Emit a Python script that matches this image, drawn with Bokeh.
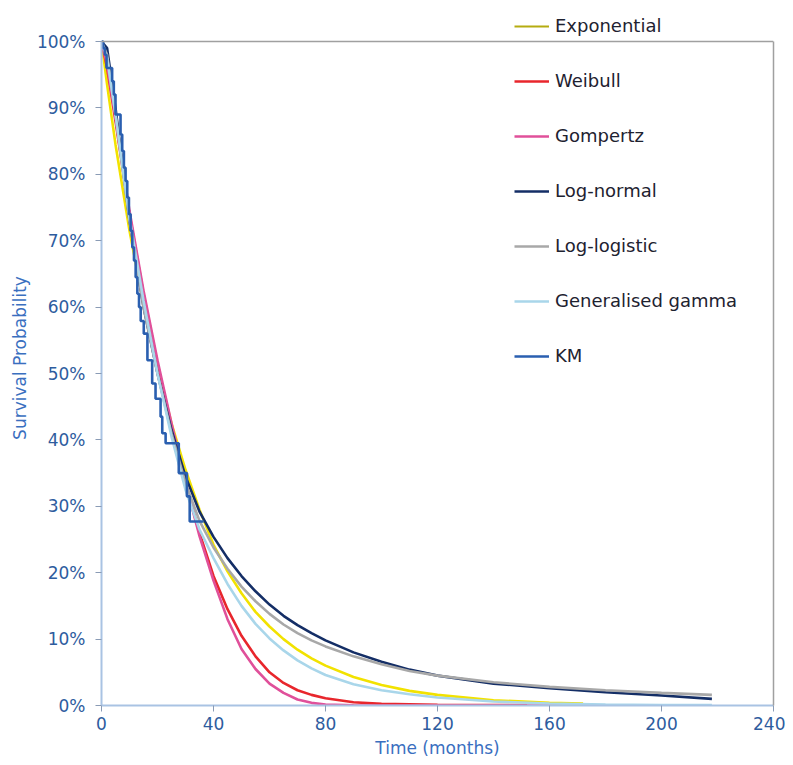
from bokeh.plotting import figure
from bokeh.models import (Legend, LegendItem, Range1d, FixedTicker, PrintfTickFormatter,
                          LinearAxis, Span)
from bokeh.embed import file_html
from bokeh.resources import INLINE

# ---- data (survival in %) ----
exp_t = [0, 2, 5, 10, 15, 20, 25, 30, 35, 40, 45, 50, 55, 60, 65, 70, 75, 80, 90, 100, 110, 120, 140, 160, 172]
exp_s = [100, 93.5, 84.5, 71.5, 60.5, 51, 42.5, 35.5, 29.5, 24.2, 20.2, 16.9, 14.1, 11.9, 10.0, 8.4, 7.1, 6.0, 4.3, 3.1, 2.2, 1.6, 0.8, 0.4, 0.3]

wei_t = [0, 2, 5, 10, 15, 20, 25, 30, 35, 40, 45, 50, 55, 60, 65, 70, 75, 80, 90, 100, 120, 152]
wei_s = [100, 96, 88, 74, 62, 51.5, 42, 33.5, 26, 19.5, 14.5, 10.5, 7.4, 5.0, 3.4, 2.3, 1.6, 1.1, 0.5, 0.25, 0.1, 0.05]

gom_t = [0, 2, 5, 10, 15, 20, 25, 30, 35, 40, 45, 50, 55, 60, 65, 70, 75, 80, 90, 100, 120, 188]
gom_s = [100, 96.5, 88.5, 74.5, 62.5, 52, 42.5, 33.5, 25.5, 18.8, 13, 8.5, 5.5, 3.3, 1.9, 0.9, 0.4, 0.15, 0.02, 0, 0, 0]

long_t = [0, 2, 5, 10, 15, 20, 25, 30, 35, 40, 45, 50, 55, 60, 65, 70, 75, 80, 90, 100, 110, 120, 140, 160, 180, 200, 218]
lnorm_s = [100, 99, 90, 73, 60, 50, 41.5, 34.5, 29.2, 25.4, 22.2, 19.5, 17.2, 15.2, 13.5, 12.1, 10.9, 9.8, 8.0, 6.6, 5.4, 4.5, 3.3, 2.6, 2.0, 1.5, 1.0]
llog_s = [100, 98, 89, 73, 60, 50, 41, 33.5, 27.8, 23.8, 20.6, 17.9, 15.7, 13.8, 12.2, 10.9, 9.8, 8.9, 7.4, 6.2, 5.2, 4.5, 3.5, 2.8, 2.3, 1.9, 1.6]
ggam_s = [100, 97.5, 89, 73.5, 61, 50, 40.5, 32.5, 26.5, 22.2, 18.3, 15.0, 12.3, 10.1, 8.3, 6.8, 5.6, 4.6, 3.2, 2.3, 1.7, 1.2, 0.6, 0.3, 0.15, 0.08, 0.05]

km_t = [0, 0.6, 1.2, 1.8, 3.8, 4.4, 5.0, 6.8, 7.4, 8.0, 8.6, 9.2, 9.8, 10.4, 11.0, 11.6, 12.2, 12.8,
        13.4, 14.0, 15.1, 16.4, 18.1, 19.3, 21.1, 21.7, 22.9, 27.6, 30.5, 31.5, 36.5]
km_s = [100, 99, 98, 96, 94, 92, 89, 86, 83.5, 81, 79, 76.5, 74, 71.5, 69, 67, 64.5, 62,
        60, 57.9, 56, 52, 48.5, 46.2, 43.5, 41, 39.5, 35, 31.5, 27.7, 27.7]

x_ticks = [0, 40, 80, 120, 160, 200, 240]
y_ticks = [0, 10, 20, 30, 40, 50, 60, 70, 80, 90, 100]

series_names = ["Exponential", "Weibull", "Gompertz", "Log-normal", "Log-logistic", "Generalised gamma", "KM"]
series_colors = ["#F2E200", "#E8262C", "#E0509A", "#142E66", "#A8A8A8", "#A9D6EA", "#2A5FB0"]
exp_legend_color = "#B5AC10"

FONT = "DejaVu Sans"

# frame extends a little above 100% so the first legend entry can sit above the plot box
TOP_PAD = 31  # px between frame top and the 100% line
FRAME_H = 695
y_max = y_ticks[-1] * FRAME_H / (FRAME_H - TOP_PAD)

p = figure(width=785, height=760, output_backend="svg", toolbar_location=None,
           x_range=Range1d(x_ticks[0], x_ticks[-1]), y_range=Range1d(0, y_max),
           min_border_left=101, min_border_top=10, min_border_right=12, min_border_bottom=40)
p.grid.visible = False
p.outline_line_color = None

for ax in (p.xaxis[0], p.yaxis[0]):
    ax.axis_line_color = "#A9C3E3"
    ax.axis_line_width = 2
    ax.major_tick_line_color = "#8A9BB5"
    ax.major_tick_out = 6
    ax.major_tick_in = 0
    ax.minor_tick_line_color = None
    ax.major_label_text_font = FONT
    ax.major_label_text_font_size = "17px"
    ax.major_label_text_color = "#2E5C9E"
    ax.axis_label_text_font = FONT
    ax.axis_label_text_font_size = "17px"
    ax.axis_label_text_font_style = "normal"
    ax.axis_label_text_color = "#3A6FBF"

p.xaxis.ticker = FixedTicker(ticks=x_ticks)
p.yaxis.ticker = FixedTicker(ticks=y_ticks)
p.yaxis.bounds = (y_ticks[0], y_ticks[-1])
p.yaxis.formatter = PrintfTickFormatter(format="%d%%")
p.xaxis.axis_label = "Time (months)"
p.yaxis.axis_label = "Survival Probability"
p.xaxis.major_label_standoff = 5
p.yaxis.major_label_standoff = 10
p.xaxis.axis_label_standoff = 5
p.yaxis.axis_label_standoff = 4

# grey plot-box border: top line at 100% and a right-hand line
p.add_layout(Span(location=y_ticks[-1], dimension="width", line_color="#A0A0A0", line_width=1.5))
right_ax = LinearAxis(bounds=(y_ticks[0], y_ticks[-1]), ticker=FixedTicker(ticks=[]),
                      axis_line_color="#A0A0A0", axis_line_width=1.5,
                      major_tick_line_color=None, minor_tick_line_color=None,
                      major_label_text_font_size="0px", major_label_standoff=0,
                      major_tick_out=0, major_tick_in=0)
p.add_layout(right_ax, "right")

lw = 2.6
r_exp = p.line(exp_t, exp_s, line_color=series_colors[0], line_width=lw)
r_wei = p.line(wei_t, wei_s, line_color=series_colors[1], line_width=lw)
r_gom = p.line(gom_t, gom_s, line_color=series_colors[2], line_width=lw)
r_ln = p.line(long_t, lnorm_s, line_color=series_colors[3], line_width=lw)
r_ll = p.line(long_t, llog_s, line_color=series_colors[4], line_width=lw)
r_gg = p.line(long_t, ggam_s, line_color=series_colors[5], line_width=lw)
r_km = p.step(km_t, km_s, mode="after", line_color=series_colors[6], line_width=2.6)

# legend swatch for Exponential is a darker olive tone in the reference (hidden copy of the series)
r_exp_leg = p.line(exp_t, exp_s, line_color=exp_legend_color, line_width=2.2, visible=False)

renderers = [r_exp_leg, r_wei, r_gom, r_ln, r_ll, r_gg, r_km]
items = [LegendItem(label=n, renderers=[r]) for n, r in zip(series_names, renderers)]
legend = Legend(items=items, location=(413, 339), orientation="vertical",
                background_fill_alpha=0, border_line_color=None,
                inactive_fill_alpha=0,
                padding=0, margin=0, spacing=34,
                glyph_width=35, glyph_height=20, label_height=20,
                label_standoff=6,
                label_text_font=FONT, label_text_font_size="18px",
                label_text_color="#1E2230")
p.add_layout(legend, "center")

open("out.html", "w").write(file_html(p, INLINE))
